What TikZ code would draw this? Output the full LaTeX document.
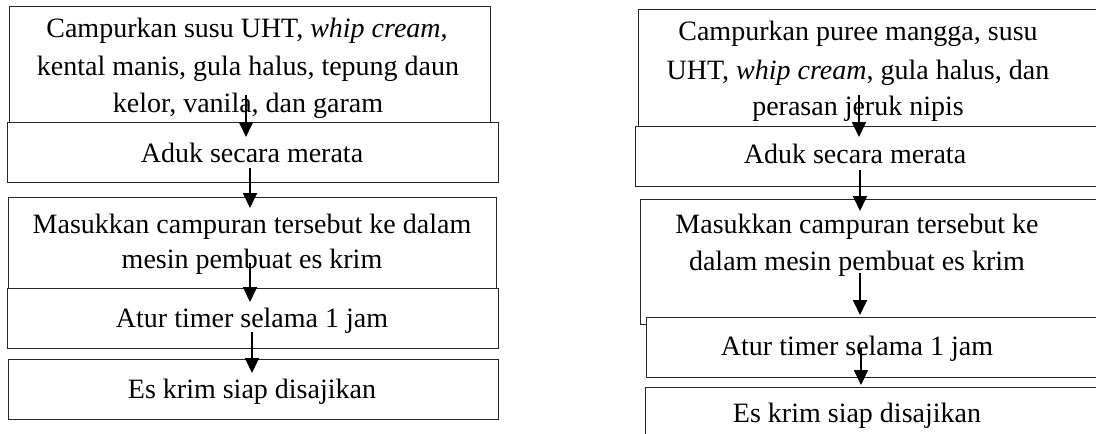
\documentclass[tikz,border=0pt]{standalone}
\usepackage{fontspec}
\setmainfont{Liberation Serif}
\usetikzlibrary{arrows.meta}
\begin{document}
\begin{tikzpicture}[x=1pt,y=-1pt,
  box/.style={draw=black!85,fill=white,line width=1.1pt,inner sep=0pt,anchor=north west},
  txt/.style={anchor=base,inner sep=0pt,font=\fontsize{28}{37}\selectfont},
  arr/.style={line width=1.8pt,-{Triangle[length=15pt,width=14pt]}}]
\clip (0,0) rectangle (1096,434);
\fill[white] (0,0) rectangle (1096,434);
% left column
\node[box,minimum width=481pt,minimum height=116pt] (L1) at (9,6) {};
\node[box,minimum width=491pt,minimum height=60pt] (L2) at (7,122) {};
\node[box,minimum width=488pt,minimum height=91pt] (L3) at (8,197) {};
\node[box,minimum width=491pt,minimum height=60pt] (L4) at (7,288) {};
\node[box,minimum width=490pt,minimum height=60pt] (L5) at (8,359) {};
\node[txt] (l1a) at (247,37) {Campurkan susu UHT, \textit{whip cream},};
\node[txt] (l1b) at (248,75) {kental manis, gula halus, tepung daun};
\node[txt] (l1c) at (248,112) {kelor, vanila, dan garam};
\node[txt] (l2) at (252,162) {Aduk secara merata};
\node[txt] (l3a) at (252,233) {Masukkan campuran tersebut ke dalam};
\node[txt] (l3b) at (252,268) {mesin pembuat es krim};
\node[txt] (l4) at (252,327) {Atur timer selama 1 jam};
\node[txt] (l5) at (252,398) {Es krim siap disajikan};
% right column
\node[box,minimum width=462pt,minimum height=117pt] (R1) at (638,9) {};
\node[box,minimum width=465pt,minimum height=60pt] (R2) at (635,126) {};
\node[box,minimum width=460pt,minimum height=125pt] (R3) at (640,199) {};
\node[box,minimum width=454pt,minimum height=60pt] (R4) at (646,317) {};
\node[box,minimum width=455pt,minimum height=60pt] (R5) at (645,387) {};
\node[txt] (r1a) at (858,40) {Campurkan puree mangga, susu};
\node[txt] (r1b) at (858,79) {UHT, \textit{whip cream}, gula halus, dan};
\node[txt] (r1c) at (858,115) {perasan jeruk nipis};
\node[txt] (r2) at (855,163) {Aduk secara merata};
\node[txt] (r3a) at (857,233) {Masukkan campuran tersebut ke};
\node[txt] (r3b) at (857,270) {dalam mesin pembuat es krim};
\node[txt] (r4) at (857,355) {Atur timer selama 1 jam};
\node[txt] (r5) at (857,422) {Es krim siap disajikan};
% arrow coordinates
\coordinate (la1) at (246,95);  \coordinate (lb1) at (246,137);
\coordinate (la2) at (250,168); \coordinate (lb2) at (250,208);
\coordinate (la3) at (250,263); \coordinate (lb3) at (250,302);
\coordinate (la4) at (252,332); \coordinate (lb4) at (252,373);
\coordinate (ra1) at (859,95);  \coordinate (rb1) at (859,137);
\coordinate (ra2) at (860,170); \coordinate (rb2) at (860,211);
\coordinate (ra3) at (860,273); \coordinate (rb3) at (860,315);
\coordinate (ra4) at (861,348); \coordinate (rb4) at (861,385);
\foreach \i in {1,2,3,4} {
  \draw[arr] (la\i) -- (lb\i);
  \draw[arr] (ra\i) -- (rb\i);
}
\end{tikzpicture}
\end{document}
